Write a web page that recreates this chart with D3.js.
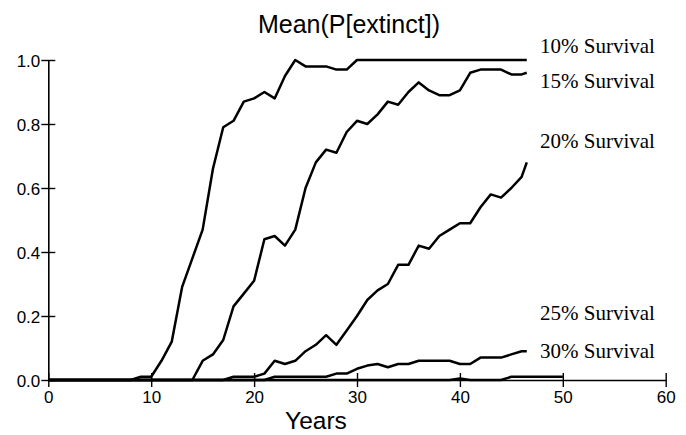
<!DOCTYPE html>
<html>
<head>
<meta charset="utf-8">
<script src="https://cdn.jsdelivr.net/npm/d3@7"></script>
<style>
  html, body { margin: 0; padding: 0; background: #fff; }
  svg { display: block; }
</style>
</head>
<body>
<svg id="chart" width="686" height="435"></svg>
<script>
// ---- data ----
const years = [0,1,2,3,4,5,6,7,8,9,10,11,12,13,14,15,16,17,18,19,20,21,22,23,24,25,26,27,28,29,30,31,32,33,34,35,36,37,38,39,40,41,42,43,44,45,46,46.5];
const yearsLong = [0,1,2,3,4,5,6,7,8,9,10,11,12,13,14,15,16,17,18,19,20,21,22,23,24,25,26,27,28,29,30,31,32,33,34,35,36,37,38,39,40,41,42,43,44,45,46,47,48,49,50];

const surv10 = [0,0,0,0,0,0,0,0,0,0.01,0.01,0.06,0.12,0.29,0.38,0.47,0.66,0.79,0.81,0.87,0.88,0.90,0.88,0.95,1.0,0.98,0.98,0.98,0.97,0.97,1,1,1,1,1,1,1,1,1,1,1,1,1,1,1,1,1,1];
const surv15 = [0,0,0,0,0,0,0,0,0,0,0,0,0,0,0,0.06,0.08,0.125,0.23,0.27,0.31,0.44,0.45,0.42,0.47,0.60,0.68,0.72,0.71,0.775,0.81,0.80,0.83,0.87,0.86,0.90,0.93,0.905,0.89,0.89,0.905,0.96,0.97,0.97,0.97,0.955,0.955,0.96];
const surv20 = [0,0,0,0,0,0,0,0,0,0,0,0,0,0,0,0,0,0,0.01,0.01,0.01,0.02,0.06,0.05,0.06,0.09,0.11,0.14,0.11,0.155,0.20,0.25,0.28,0.30,0.36,0.36,0.42,0.41,0.45,0.47,0.49,0.49,0.54,0.58,0.57,0.60,0.635,0.68];
const surv25 = [0,0,0,0,0,0,0,0,0,0,0,0,0,0,0,0,0,0,0,0,0,0,0.01,0.01,0.01,0.01,0.01,0.01,0.02,0.02,0.035,0.045,0.05,0.04,0.05,0.05,0.06,0.06,0.06,0.06,0.05,0.05,0.07,0.07,0.07,0.08,0.09,0.09];
const surv30 = [0,0,0,0,0,0,0,0,0,0,0,0,0,0,0,0,0,0,0,0,0,0,0,0,0,0,0,0,0,0,0,0,0,0,0,0,0,0,0,0,0.005,0,0,0,0,0.01,0.01,0.01,0.01,0.01,0.01];

const labels = ["10% Survival", "15% Survival", "20% Survival", "25% Survival", "30% Survival"];
const xTicks = [0, 10, 20, 30, 40, 50, 60];
const yTicks = [0, 0.2, 0.4, 0.6, 0.8, 1.0];
const titleText = "Mean(P[extinct])";
const xTitle = "Years";

// ---- layout ----
const labelBaselines = [53, 88, 148, 320, 358];
const svg = d3.select("#chart");
const x = d3.scaleLinear().domain([0, 60]).range([48.3, 665.7]);
const y = d3.scaleLinear().domain([0, 1]).range([380, 60]);

const series = [
  {xs: years, vs: surv10},
  {xs: years, vs: surv15},
  {xs: years, vs: surv20},
  {xs: years, vs: surv25},
  {xs: yearsLong, vs: surv30}
];

// axes
const xAxis = svg.append("g").attr("transform", `translate(0,${y(0)})`)
  .call(d3.axisBottom(x).tickValues(xTicks).tickSizeInner(7).tickSizeOuter(0).tickPadding(3).tickFormat(d3.format("d")));
xAxis.selectAll(".tick line").attr("y1", -7).attr("y2", 7);
const yAxis = svg.append("g").attr("transform", `translate(${x(0)},0)`)
  .call(d3.axisLeft(y).tickValues(yTicks).tickSizeInner(7).tickSizeOuter(0).tickPadding(1).tickFormat(d3.format(".1f")));
yAxis.selectAll(".tick line").attr("x1", -7).attr("x2", 7);

[xAxis, yAxis].forEach(g => {
  g.select(".domain").attr("stroke", "#000").attr("stroke-width", 1.6);
  g.selectAll(".tick line").attr("stroke", "#000").attr("stroke-width", 1.4);
  g.selectAll(".tick text").attr("fill", "#000")
    .style("font-family", "'Liberation Sans', Arial, sans-serif").style("font-size", "17px");
});
yAxis.selectAll(".tick text").attr("dy", "0.36em");
xAxis.selectAll(".tick text").attr("dy", "0.76em");

// lines
const line = d3.line().x(d => x(d[0])).y(d => y(d[1]));
svg.append("g").selectAll("path").data(series).join("path")
  .attr("d", s => line(s.xs.map((v, i) => [v, s.vs[i]])))
  .attr("fill", "none").attr("stroke", "#000").attr("stroke-width", 2.5)
  .attr("stroke-linejoin", "round");

// labels
svg.append("g").selectAll("text").data(labels).join("text")
  .attr("x", 540).attr("y", (d, i) => labelBaselines[i])
  .style("font-family", "'Liberation Serif', 'Times New Roman', serif").style("font-size", "21px")
  .attr("fill", "#000").text(d => d);

// title
svg.append("text").attr("x", 349).attr("y", 33).attr("text-anchor", "middle")
  .style("font-family", "'Liberation Sans', Arial, sans-serif").style("font-size", "25px")
  .attr("fill", "#000").text(titleText);

svg.append("text").attr("x", 316).attr("y", 429).attr("text-anchor", "middle")
  .style("font-family", "'Liberation Sans', Arial, sans-serif").style("font-size", "24.5px")
  .attr("fill", "#000").text(xTitle);
</script>
</body>
</html>
